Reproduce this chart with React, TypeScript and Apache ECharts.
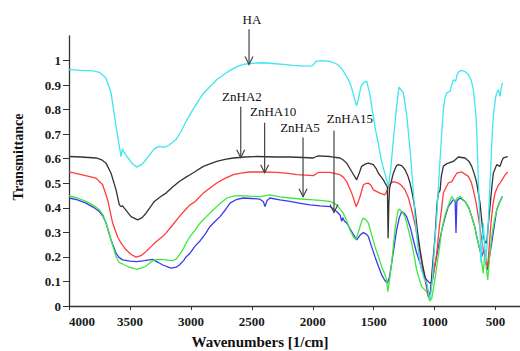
import { useEffect, useRef } from 'react';
import * as echarts from 'echarts';

// Wavenumber (1/cm), transmittance
const HA_DATA: [number, number][] = [
  [4000,0.963],[3900,0.960],[3800,0.958],[3751,0.952],[3696,0.929],[3655,0.868],[3614,0.732],[3587,0.650],[3573,0.609],[3562,0.640],[3550,0.628],[3518,0.605],[3480,0.580],[3445,0.566],[3400,0.578],[3368,0.596],[3330,0.622],[3300,0.640],[3260,0.650],[3220,0.646],[3180,0.655],[3122,0.678],[3080,0.712],[3040,0.752],[2990,0.795],[2940,0.835],[2898,0.866],[2840,0.895],[2788,0.922],[2730,0.943],[2679,0.960],[2620,0.975],[2570,0.984],[2515,0.988],[2460,0.990],[2406,0.991],[2330,0.988],[2242,0.984],[2160,0.980],[2078,0.977],[2010,0.978],[1990,0.985],[1974,0.997],[1930,1.0],[1859,0.997],[1800,0.985],[1760,0.965],[1722,0.935],[1695,0.909],[1670,0.870],[1650,0.830],[1640,0.816],[1625,0.845],[1605,0.895],[1585,0.909],[1558,0.916],[1535,0.870],[1517,0.814],[1490,0.730],[1462,0.660],[1440,0.600],[1420,0.560],[1394,0.514],[1380,0.487],[1360,0.560],[1339,0.678],[1315,0.800],[1293,0.892],[1275,0.880],[1257,0.868],[1230,0.780],[1202,0.637],[1180,0.500],[1161,0.364],[1140,0.250],[1120,0.174],[1090,0.115],[1065,0.093],[1050,0.050],[1038,0.028],[1020,0.100],[1000,0.250],[983,0.364],[970,0.480],[956,0.596],[940,0.720],[929,0.800],[915,0.850],[901,0.868],[874,0.875],[860,0.900],[847,0.922],[828,0.916],[815,0.945],[800,0.955],[778,0.960],[750,0.955],[724,0.943],[700,0.920],[683,0.882],[665,0.800],[655,0.718],[645,0.560],[633,0.392],[620,0.175],[610,0.260],[601,0.338],[590,0.250],[582,0.175],[565,0.283],[555,0.400],[546,0.501],[530,0.680],[519,0.773],[500,0.850],[491,0.868],[478,0.882],[464,0.854],[455,0.885],[445,0.909]
];

const ZNHA2_DATA: [number, number][] = [
  [4000,0.609],[3900,0.607],[3778,0.603],[3730,0.595],[3696,0.582],[3655,0.541],[3614,0.473],[3587,0.412],[3573,0.405],[3560,0.408],[3546,0.399],[3491,0.364],[3436,0.351],[3400,0.360],[3368,0.378],[3330,0.405],[3300,0.426],[3250,0.445],[3204,0.460],[3150,0.485],[3095,0.507],[3040,0.525],[3007,0.535],[2964,0.548],[2898,0.569],[2850,0.578],[2788,0.589],[2720,0.597],[2652,0.603],[2560,0.607],[2460,0.609],[2300,0.607],[2187,0.607],[2080,0.605],[1996,0.603],[1975,0.608],[1955,0.612],[1859,0.609],[1777,0.603],[1750,0.595],[1722,0.582],[1681,0.548],[1640,0.514],[1620,0.540],[1599,0.569],[1570,0.578],[1544,0.582],[1503,0.576],[1480,0.560],[1462,0.541],[1421,0.514],[1395,0.490],[1388,0.487],[1382,0.276],[1376,0.420],[1370,0.480],[1339,0.541],[1315,0.570],[1298,0.576],[1270,0.572],[1243,0.555],[1220,0.530],[1202,0.501],[1180,0.450],[1161,0.392],[1140,0.300],[1120,0.229],[1100,0.170],[1079,0.120],[1055,0.060],[1038,0.031],[1020,0.150],[997,0.283],[980,0.420],[970,0.460],[956,0.470],[945,0.530],[929,0.569],[900,0.580],[888,0.582],[847,0.589],[806,0.607],[751,0.603],[720,0.590],[696,0.569],[670,0.530],[655,0.501],[628,0.419],[610,0.330],[601,0.283],[585,0.260],[573,0.256],[560,0.330],[546,0.405],[530,0.490],[519,0.541],[491,0.576],[464,0.569],[450,0.590],[437,0.603],[401,0.609]
];

const ZNHA10_DATA: [number, number][] = [
  [4000,0.546],[3900,0.535],[3778,0.521],[3724,0.494],[3683,0.433],[3642,0.338],[3600,0.280],[3573,0.256],[3532,0.229],[3490,0.210],[3450,0.199],[3410,0.205],[3368,0.222],[3320,0.245],[3286,0.262],[3240,0.280],[3204,0.297],[3150,0.330],[3095,0.364],[3040,0.395],[3007,0.412],[2964,0.426],[2898,0.460],[2840,0.482],[2788,0.501],[2720,0.520],[2652,0.535],[2580,0.542],[2515,0.546],[2400,0.546],[2296,0.544],[2200,0.540],[2132,0.535],[2060,0.533],[1996,0.531],[1975,0.538],[1955,0.544],[1859,0.544],[1777,0.535],[1750,0.525],[1722,0.507],[1681,0.460],[1660,0.430],[1645,0.405],[1630,0.420],[1612,0.446],[1585,0.494],[1560,0.500],[1544,0.501],[1520,0.490],[1503,0.473],[1449,0.460],[1408,0.453],[1390,0.470],[1380,0.487],[1360,0.500],[1339,0.507],[1298,0.501],[1270,0.490],[1243,0.473],[1215,0.440],[1189,0.392],[1160,0.330],[1134,0.256],[1100,0.160],[1079,0.106],[1052,0.038],[1035,0.060],[1010,0.130],[983,0.215],[960,0.330],[942,0.400],[929,0.460],[900,0.490],[888,0.501],[860,0.507],[819,0.541],[778,0.546],[724,0.528],[700,0.505],[683,0.473],[660,0.420],[642,0.364],[620,0.290],[601,0.229],[580,0.190],[565,0.160],[550,0.260],[538,0.338],[520,0.420],[505,0.460],[480,0.490],[464,0.501],[440,0.520],[420,0.535],[401,0.546]
];

const ZNHA5_DATA: [number, number][] = [
  [4000,0.449],[3930,0.440],[3861,0.426],[3800,0.410],[3751,0.392],[3720,0.370],[3696,0.338],[3655,0.269],[3614,0.201],[3590,0.178],[3560,0.171],[3505,0.158],[3445,0.150],[3400,0.155],[3368,0.163],[3330,0.178],[3300,0.188],[3250,0.190],[3204,0.188],[3149,0.185],[3120,0.192],[3095,0.208],[3060,0.235],[3040,0.256],[3007,0.283],[2964,0.310],[2925,0.338],[2870,0.365],[2816,0.392],[2760,0.418],[2706,0.440],[2650,0.448],[2597,0.450],[2520,0.448],[2433,0.446],[2351,0.453],[2270,0.445],[2187,0.440],[2100,0.436],[2023,0.433],[1940,0.430],[1859,0.426],[1804,0.412],[1750,0.378],[1720,0.345],[1695,0.310],[1665,0.280],[1645,0.272],[1620,0.310],[1600,0.345],[1585,0.358],[1565,0.352],[1544,0.338],[1520,0.295],[1490,0.242],[1460,0.200],[1435,0.160],[1410,0.130],[1394,0.106],[1385,0.058],[1375,0.090],[1353,0.174],[1326,0.310],[1305,0.380],[1293,0.395],[1270,0.385],[1243,0.364],[1215,0.310],[1189,0.256],[1165,0.195],[1148,0.147],[1107,0.079],[1065,0.058],[1040,0.020],[1024,0.031],[1000,0.100],[983,0.160],[960,0.240],[942,0.310],[920,0.360],[901,0.392],[880,0.420],[860,0.446],[833,0.426],[815,0.440],[792,0.446],[751,0.426],[720,0.400],[696,0.364],[670,0.320],[655,0.283],[628,0.229],[615,0.180],[601,0.133],[587,0.229],[575,0.150],[565,0.106],[550,0.200],[532,0.283],[510,0.350],[491,0.392],[470,0.420],[445,0.446]
];

const ZNHA15_DATA: [number, number][] = [
  [4000,0.440],[3930,0.432],[3861,0.419],[3800,0.402],[3751,0.385],[3720,0.365],[3696,0.338],[3655,0.269],[3614,0.215],[3590,0.198],[3560,0.188],[3500,0.183],[3445,0.181],[3380,0.185],[3314,0.190],[3270,0.178],[3231,0.167],[3163,0.154],[3120,0.158],[3095,0.167],[3060,0.185],[3040,0.200],[3007,0.215],[2964,0.245],[2925,0.265],[2880,0.295],[2843,0.324],[2800,0.345],[2761,0.364],[2720,0.390],[2679,0.419],[2630,0.433],[2570,0.440],[2500,0.438],[2433,0.435],[2405,0.425],[2392,0.405],[2375,0.430],[2351,0.440],[2270,0.432],[2187,0.426],[2100,0.418],[2023,0.412],[1940,0.408],[1859,0.405],[1804,0.385],[1775,0.370],[1763,0.345],[1755,0.360],[1740,0.345],[1722,0.338],[1681,0.303],[1640,0.269],[1610,0.290],[1585,0.299],[1560,0.293],[1544,0.283],[1520,0.245],[1490,0.201],[1460,0.160],[1435,0.127],[1410,0.105],[1388,0.093],[1370,0.120],[1353,0.174],[1330,0.250],[1312,0.310],[1290,0.360],[1271,0.385],[1250,0.378],[1230,0.364],[1200,0.320],[1175,0.269],[1150,0.220],[1120,0.174],[1090,0.125],[1065,0.106],[1040,0.093],[1020,0.100],[1000,0.160],[970,0.240],[941,0.310],[910,0.370],[888,0.405],[847,0.433],[832,0.428],[825,0.297],[818,0.428],[792,0.440],[751,0.426],[720,0.400],[696,0.364],[670,0.320],[655,0.283],[630,0.230],[615,0.201],[595,0.229],[580,0.180],[565,0.147],[550,0.200],[532,0.256],[510,0.330],[491,0.392],[470,0.420],[445,0.446]
];

const SERIES_NAMES = ['ZnHA15', 'ZnHA5', 'ZnHA10', 'ZnHA2', 'HA'];
const SERIES_DATA = [ZNHA15_DATA, ZNHA5_DATA, ZNHA10_DATA, ZNHA2_DATA, HA_DATA];
const SERIES_COLORS = ['#3a3af0', '#3ee83e', '#ff3c3c', '#333333', '#3ee6f0'];

const X_TICKS = [4000, 3500, 3000, 2500, 2000, 1500, 1000, 500];
const Y_TICKS = [0, 0.1, 0.2, 0.3, 0.4, 0.5, 0.6, 0.7, 0.8, 0.9, 1];

// Annotation arrows (data coordinates)
const ANN_LABELS = ['HA', 'ZnHA2', 'ZnHA10', 'ZnHA5', 'ZnHA15'];
const ANN_ARROW_X = [2523, 2591, 2395, 2080, 1826];
const ANN_TAIL_Y = [1.127, 0.812, 0.747, 0.686, 0.714];
const ANN_TIP_Y = [0.984, 0.604, 0.543, 0.445, 0.381];
const ANN_TEXT_X = [2499, 2581, 2326, 2105, 1695];
const ANN_TEXT_Y = [1.167, 0.853, 0.792, 0.727, 0.763];

const SERIF = 'Liberation Serif, Times New Roman, serif';

export default function App() {
  const ref = useRef<HTMLDivElement>(null);

  useEffect(() => {
    if (!ref.current) return;
    const chart = echarts.init(ref.current, null, { renderer: 'svg', width: 520, height: 351 });
    chart.setOption({
      animation: false,
      backgroundColor: '#ffffff',
      grid: { left: 69, right: 0, top: 36, bottom: 45 },
      xAxis: {
        type: 'value',
        inverse: true,
        min: 300,
        max: 4000,
        splitLine: { show: false },
        axisLine: { show: true, onZero: false, lineStyle: { color: '#333', width: 1.3 } },
        axisTick: { show: true, inside: false, length: 4, customValues: X_TICKS, lineStyle: { color: '#333' } },
        axisLabel: {
          customValues: X_TICKS,
          margin: 9,
          color: '#1a1a1a',
          fontFamily: SERIF,
          fontWeight: 'bold',
          fontSize: 13,
          formatter: (v: number) => (v === 4000 ? '{s|4000}' : String(v)),
          rich: {
            s: { padding: [0, 0, 0, 26], fontFamily: SERIF, fontWeight: 'bold', fontSize: 13, color: '#1a1a1a' },
          },
        },
      },
      yAxis: {
        type: 'value',
        min: 0,
        max: 1.1,
        splitLine: { show: false },
        axisLine: { show: true, onZero: false, lineStyle: { color: '#333', width: 1.3 } },
        axisTick: { show: true, inside: false, length: 6, customValues: Y_TICKS, lineStyle: { color: '#333' } },
        axisLabel: {
          customValues: Y_TICKS,
          margin: 8,
          color: '#1a1a1a',
          fontFamily: SERIF,
          fontWeight: 'bold',
          fontSize: 13,
          formatter: (v: number) => String(Math.round(v * 10) / 10),
        },
      },
      series: SERIES_NAMES.map((name, i) => ({
        name,
        type: 'line',
        data: SERIES_DATA[i],
        showSymbol: false,
        symbol: 'none',
        smooth: false,
        lineStyle: { color: SERIES_COLORS[i], width: 1.3 },
        z: 2 + i,
      })),
    });

    const graphics: any[] = [];
    ANN_LABELS.forEach((lab, i) => {
      const tail = chart.convertToPixel({ gridIndex: 0 }, [ANN_ARROW_X[i], ANN_TAIL_Y[i]]) as number[];
      const tip = chart.convertToPixel({ gridIndex: 0 }, [ANN_ARROW_X[i], ANN_TIP_Y[i]]) as number[];
      const txt = chart.convertToPixel({ gridIndex: 0 }, [ANN_TEXT_X[i], ANN_TEXT_Y[i]]) as number[];
      graphics.push({
        type: 'line',
        z: 100,
        shape: { x1: tail[0], y1: tail[1], x2: tip[0], y2: tip[1] },
        style: { stroke: '#444', lineWidth: 1.2 },
      });
      graphics.push({
        type: 'polyline',
        z: 100,
        shape: { points: [[tip[0] - 4, tip[1] - 8], [tip[0], tip[1]], [tip[0] + 4, tip[1] - 8]] },
        style: { stroke: '#444', lineWidth: 1.2, fill: 'none' },
      });
      graphics.push({
        type: 'text',
        z: 100,
        x: txt[0],
        y: txt[1],
        style: {
          text: lab,
          fontFamily: SERIF,
          fontSize: 13,
          fill: '#111',
          textAlign: 'center',
          textVerticalAlign: 'middle',
        },
      });
    });
    graphics.push({
      type: 'text',
      x: 18,
      y: 157,
      rotation: Math.PI / 2,
      style: {
        text: 'Transmittance',
        fontFamily: SERIF,
        fontWeight: 'bold',
        fontSize: 14,
        fill: '#111',
        textAlign: 'center',
        textVerticalAlign: 'middle',
      },
    });
    graphics.push({
      type: 'text',
      x: 260,
      y: 342,
      style: {
        text: 'Wavenumbers [1/cm]',
        fontFamily: SERIF,
        fontWeight: 'bold',
        fontSize: 15,
        fill: '#111',
        textAlign: 'center',
        textVerticalAlign: 'middle',
      },
    });
    chart.setOption({ graphic: graphics });

    return () => {
      chart.dispose();
    };
  }, []);

  return (
    <div
      ref={ref}
      style={{ position: 'fixed', left: 0, top: 0, width: 520, height: 351, background: '#fff' }}
    />
  );
}
